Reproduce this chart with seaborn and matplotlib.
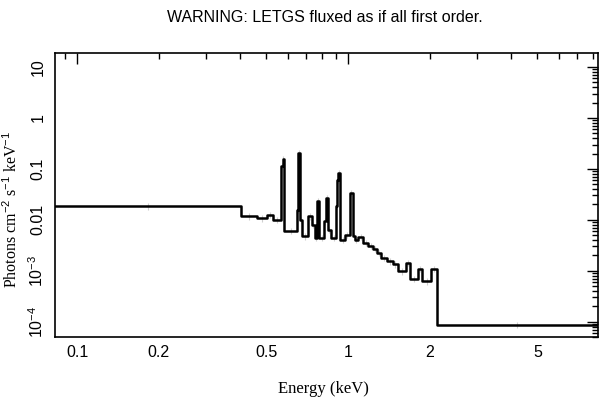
import numpy as np
import pandas as pd
import matplotlib
matplotlib.use("Agg")
import matplotlib.pyplot as plt
import matplotlib.ticker as mticker
import seaborn as sns

# ---- data ----
bin_lo = [0.0829, 0.4029, 0.4597, 0.5003, 0.5287, 0.5660, 0.5732, 0.5805, 0.6483, 0.6539,
          0.6651, 0.6766, 0.7117, 0.7364, 0.7553, 0.7683, 0.7848, 0.8153, 0.8260, 0.8402,
          0.8655, 0.9030, 0.9108, 0.9224, 0.9344, 0.9748, 1.0171, 1.0390, 1.0612, 1.0887,
          1.1361, 1.1853, 1.2368, 1.2794, 1.3237, 1.3926, 1.4654, 1.5290, 1.6368, 1.7006,
          1.8127, 1.8755, 2.0249, 2.1218]
bin_hi_last = 8.366
flux = [0.0184, 0.0117, 0.0107, 0.0125, 0.0100, 0.1145, 0.157, 0.00608, 0.0157, 0.206,
        0.0100, 0.00475, 0.0117, 0.00798, 0.00444, 0.0231, 0.00444, 0.00935, 0.0270, 0.00637,
        0.00444, 0.0188, 0.0608, 0.0835, 0.00405, 0.00508, 0.0338, 0.00475, 0.00405, 0.00464,
        0.00354, 0.00309, 0.00270, 0.00225, 0.00180, 0.00154, 0.00134, 0.000977, 0.00144, 0.000697,
        0.00109, 0.000622, 0.00109, 8.73e-5]
rel_err = 0.15

title = "WARNING: LETGS fluxed as if all first order."
xlabel = "Energy (keV)"
ylabel = r"Photons cm$^{-2}$ s$^{-1}$ keV$^{-1}$"
xtick_vals = [0.1, 0.2, 0.5, 1, 2, 5]
xtick_labels = ["0.1", "0.2", "0.5", "1", "2", "5"]
ytick_vals = [10, 1, 0.1, 0.01, 1e-3, 1e-4]
ytick_labels = ["10", "1", "0.1", "0.01", r"10$^{-3}$", r"10$^{-4}$"]

# ---- build step table ----
edges = np.array(bin_lo + [bin_hi_last])
vals = np.array(flux)
df = pd.DataFrame({"E": edges, "F": np.append(vals, vals[-1])})
centers = np.sqrt(edges[:-1] * edges[1:])

sns.set_theme(style="white")
plt.rcParams["font.family"] = ["Liberation Sans", "DejaVu Sans"]
plt.rcParams["mathtext.fontset"] = "custom"
plt.rcParams["mathtext.rm"] = "Liberation Sans"
plt.rcParams["mathtext.it"] = "Liberation Sans:italic"

fig = plt.figure(figsize=(6.09, 3.99), dpi=100)
ax = fig.add_axes([55 / 609, 1 - 337 / 399, 543 / 609, 284 / 399])

ax.errorbar(centers, vals, yerr=[vals * rel_err, vals * rel_err], fmt="none",
            ecolor="#cfcfcf", elinewidth=0.8, zorder=1)
sns.lineplot(data=df, x="E", y="F", ax=ax, drawstyle="steps-post", estimator=None,
             sort=False, color="black", linewidth=1.8, zorder=3)

ax.set_xscale("log")
ax.set_yscale("log")
ax.set_xlim(0.0829, 8.37)
ax.set_ylim(5.0e-5, 18.8)

ax.xaxis.set_major_locator(mticker.FixedLocator([0.1, 1.0]))
ax.xaxis.set_minor_locator(mticker.LogLocator(base=10, subs=np.arange(2, 10)))
ax.xaxis.set_major_formatter(mticker.NullFormatter())
ax.xaxis.set_minor_formatter(mticker.NullFormatter())
ax.yaxis.set_major_locator(mticker.LogLocator(base=10, numticks=20))
ax.yaxis.set_minor_locator(mticker.LogLocator(base=10, subs=np.arange(2, 10), numticks=20))
ax.yaxis.set_major_formatter(mticker.NullFormatter())
ax.yaxis.set_minor_formatter(mticker.NullFormatter())

ax.tick_params(which="both", direction="in", top=True, right=True, color="black", width=1.0)
ax.tick_params(which="major", length=8)
ax.tick_params(which="minor", length=4)

for v, lab in zip(xtick_vals, xtick_labels):
    ax.text(v, -0.028, lab, transform=ax.get_xaxis_transform(), ha="center", va="top",
            fontsize=11.5, color="black")
for v, lab in zip(ytick_vals, ytick_labels):
    ax.text(-0.017, v, lab, transform=ax.get_yaxis_transform(), ha="center", va="bottom",
            rotation=90, rotation_mode="anchor", fontsize=11.5, color="black")

for s in ax.spines.values():
    s.set_color("black")
    s.set_linewidth(1.2)

ax.set_xlabel(xlabel, fontsize=12, family=["Liberation Serif", "DejaVu Serif"], color="black")
ax.xaxis.set_label_coords(0.495, -0.155)
ax.set_ylabel(ylabel, fontsize=11.5, family=["Liberation Serif", "DejaVu Serif"], color="black")
ax.yaxis.set_label_coords(-0.062, 0.45)
fig.text(325 / 609, 1 - 18 / 399, title, ha="center", va="center", fontsize=11.5, color="black")

fig.savefig("out.png", dpi=100)
